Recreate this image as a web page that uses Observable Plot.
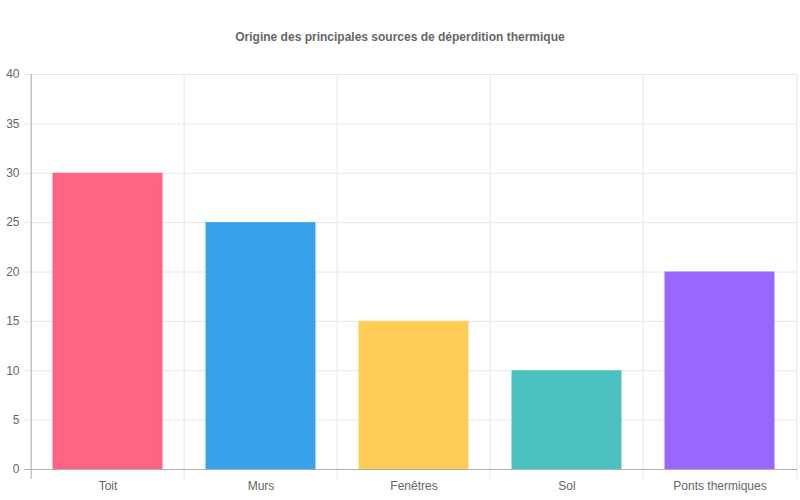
<!DOCTYPE html>
<html>
<head>
<meta charset="utf-8">
<script src="https://cdn.jsdelivr.net/npm/d3@7"></script>
<script src="https://cdn.jsdelivr.net/npm/@observablehq/plot@0.6"></script>
<style>
  html, body { margin: 0; padding: 0; background: #fff; }
  #title { height: 64px; width: 800px; box-sizing: border-box; padding-top: 30px; text-align: center;
    font: bold 12px "Liberation Sans", Arial, Helvetica, sans-serif; color: #666; line-height: 14px; }
  #chart svg { display: block; }
</style>
</head>
<body>
<div id="title">Origine des principales sources de déperdition thermique</div>
<div id="chart"></div>
<script>
const categories = ["Toit", "Murs", "Fenêtres", "Sol", "Ponts thermiques"];
const values = [30, 25, 15, 10, 20];
const colors = ["#ff6384", "#36a2eb", "#ffcd56", "#4bc0c0", "#9966ff"];
const yTicks = [0, 5, 10, 15, 20, 25, 30, 35, 40];

const data = categories.map((c, i) => ({category: c, value: values[i], color: colors[i]}));

const W = 800, H = 436, mL = 29, mR = 3, mT = 10, mB = 31;
const bw = (W - mL - mR) / categories.length;
const inset = bw * 0.14;

const chart = Plot.plot({
  width: W,
  height: H,
  marginLeft: mL,
  marginRight: mR,
  marginTop: mT,
  marginBottom: mB,
  style: {fontFamily: '"Liberation Sans", Arial, Helvetica, sans-serif', fontSize: "12px", color: "#666", background: "#fff"},
  x: {domain: categories, padding: 0, label: null},
  y: {domain: [0, 40], label: null},
  marks: [
    Plot.ruleY(yTicks, {stroke: "#e6e6e6", strokeWidth: 1, insetLeft: -5}),
    Plot.ruleX(categories, {x: d => d, dx: -bw / 2, stroke: "#e6e6e6", strokeWidth: 1, insetBottom: -10}),
    Plot.ruleX([categories[categories.length - 1]], {x: d => d, dx: bw / 2, stroke: "#e6e6e6", strokeWidth: 1, insetBottom: -10}),
    Plot.barY(data, {x: "category", y: "value", fill: "color", insetLeft: inset, insetRight: inset}),
    Plot.ruleX([categories[0]], {x: d => d, dx: -bw / 2, stroke: "#b0b0b0", strokeWidth: 1, insetBottom: -10}),
    Plot.ruleY([0], {stroke: "#b0b0b0", strokeWidth: 1, insetLeft: -5}),
    Plot.axisY({ticks: yTicks, tickSize: 0, tickPadding: 10, fill: "#666", fontSize: 12}),
    Plot.axisX({tickSize: 0, tickPadding: 12, fill: "#666", fontSize: 12})
  ]
});
document.getElementById("chart").appendChild(chart);
</script>
</body>
</html>
